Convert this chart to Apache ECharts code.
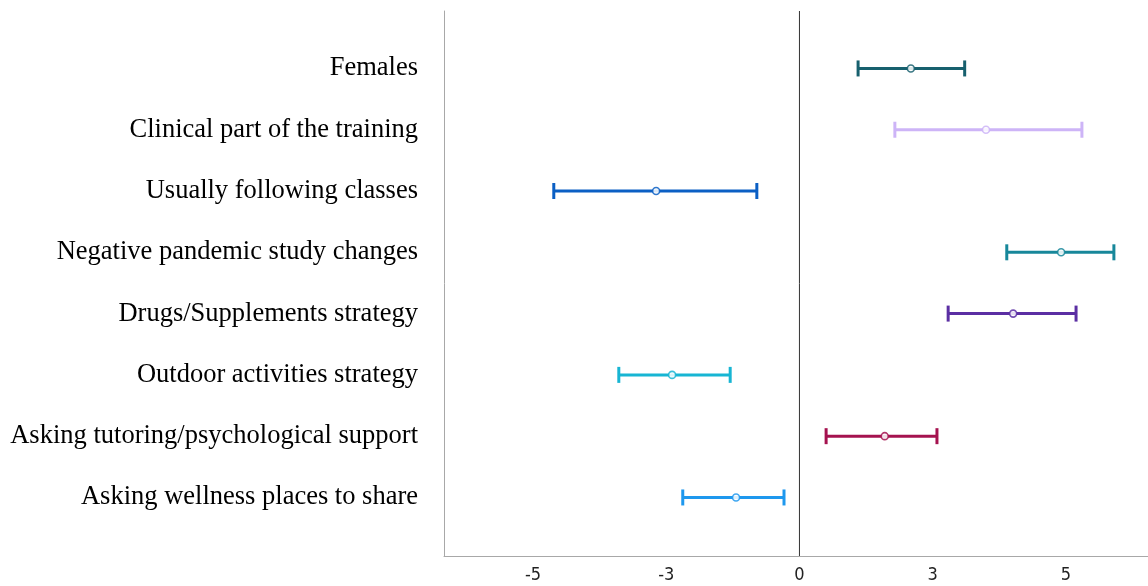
<!DOCTYPE html>
<html><head><meta charset="utf-8">
<script src="https://cdn.jsdelivr.net/npm/echarts@6/dist/echarts.min.js"></script>
<style>html,body{margin:0;padding:0;background:#fff}#c{width:1148px;height:586px}</style>
</head><body><div id="c"></div>
<script>
var categories = ["Females","Clinical part of the training","Usually following classes","Negative pandemic study changes","Drugs/Supplements strategy","Outdoor activities strategy","Asking tutoring/psychological support","Asking wellness places to share"];
var lowValues  = [1.10, 1.79, -4.61, 3.89, 2.79, -3.39, 0.50, -2.19];
var estValues  = [2.09, 3.50, -2.69, 4.91, 4.01, -2.39, 1.60, -1.19];
var highValues = [3.10, 5.30, -0.80, 5.90, 5.19, -1.30, 2.58, -0.29];
var colors = ["#17606e","#cdb4f7","#0b5fc4","#17879a","#5b2fa3","#17b5d3","#a5124f","#1e98ee"];
var tickValues = [-5, -2.5, 0, 2.5, 5];
var tickLabels = ["-5", "-3", "0", "3", "5"];
var refValue = 0;

var data = categories.map(function(c, i){ return {value:[lowValues[i], estValues[i], highValues[i], i], itemStyle:{color:colors[i]}}; });

var chart = echarts.init(document.getElementById('c'), null, {renderer:'canvas'});
chart.setOption({
  animation:false,
  grid:[{left:444, right:0, top:11, bottom:30},{left:444, right:0, top:37.8, height:490.3}],
  xAxis:[
    {type:'value', gridIndex:0, min:-6.67, max:6.54,
     axisLine:{show:true, onZero:false, lineStyle:{color:'#a8a8a8', width:1}}, axisTick:{show:false}, splitLine:{show:false},
     axisLabel:{customValues:tickValues, margin:10, color:'#222', fontSize:18, fontFamily:'"Liberation Sans Narrow","DejaVu Sans Condensed",sans-serif',
       formatter:function(v){ var k = tickValues.indexOf(v); return k>=0 ? tickLabels[k] : ''; }}},
    {type:'value', gridIndex:1, min:-6.67, max:6.54, show:false}
  ],
  yAxis:[
    {type:'value', gridIndex:0, min:0, max:1, axisLine:{show:true, onZero:false, lineStyle:{color:'#a8a8a8', width:1}}, axisTick:{show:false}, axisLabel:{show:false}, splitLine:{show:false}},
    {type:'category', gridIndex:1, inverse:true, data:categories, axisLine:{show:false}, axisTick:{show:false}, splitLine:{show:false},
     axisLabel:{margin:26, color:'#000', fontSize:26.5, padding:[6,0,0,0], fontFamily:'"Liberation Serif","Times New Roman",serif'}}
  ],
  series:[
    {type:'line', xAxisIndex:0, yAxisIndex:0, data:[[refValue,0],[refValue,1]], symbol:'none', silent:true,
     lineStyle:{color:'#333', width:1}},
    {type:'custom', xAxisIndex:1, yAxisIndex:1, data:data, encode:{x:[0,1,2], y:3},
     renderItem:function(params, api){
       var ci = api.value(3);
       var lo = api.coord([api.value(0), ci]);
       var md = api.coord([api.value(1), ci]);
       var hi = api.coord([api.value(2), ci]);
       var col = api.visual('color');
       var st = {stroke:col, lineWidth:3};
       var h = 8;
       return {type:'group', children:[
         {type:'line', shape:{x1:lo[0], y1:lo[1], x2:hi[0], y2:hi[1]}, style:st},
         {type:'line', shape:{x1:lo[0], y1:lo[1]-h, x2:lo[0], y2:lo[1]+h}, style:st},
         {type:'line', shape:{x1:hi[0], y1:hi[1]-h, x2:hi[0], y2:hi[1]+h}, style:st},
         {type:'circle', shape:{cx:md[0], cy:md[1], r:3.5}, style:{fill:'#fff', stroke:col, lineWidth:1.6, opacity:0.85}}
       ]};
     }}
  ]
});
</script></body></html>
